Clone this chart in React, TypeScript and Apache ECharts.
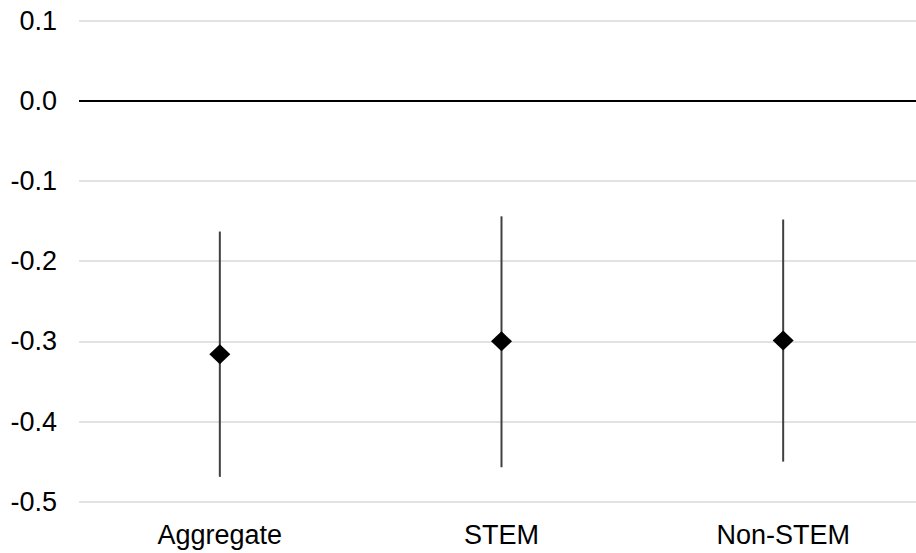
import React, { useEffect, useRef } from "react";
import * as echarts from "echarts";

const categories = ["Aggregate", "STEM", "Non-STEM"];
const estimates = [-0.316, -0.3, -0.299];
const lowerBounds = [-0.469, -0.457, -0.45];
const upperBounds = [-0.163, -0.144, -0.148];
const yTicks = { min: -0.5, max: 0.1, interval: 0.1 };

const FONT = "'Liberation Sans', Arial, sans-serif";

export default function App() {
  const ref = useRef<HTMLDivElement>(null);
  useEffect(() => {
    if (!ref.current) return;
    const chart = echarts.init(ref.current, undefined, { renderer: "svg" });
    const errData = categories.map((_, i) => [i, lowerBounds[i], upperBounds[i]]);
    chart.setOption({
      animation: false,
      grid: { left: 79, top: 20.7, width: 845, height: 481, containLabel: false },
      xAxis: {
        type: "category",
        data: categories,
        boundaryGap: true,
        axisLine: { show: false, onZero: false },
        axisTick: { show: false },
        splitLine: { show: false },
        axisLabel: { color: "#000", fontSize: 27, fontFamily: FONT, margin: 20 },
      },
      yAxis: {
        type: "value",
        min: yTicks.min,
        max: yTicks.max,
        interval: yTicks.interval,
        axisLine: { show: false },
        axisTick: { show: false },
        splitLine: { lineStyle: { color: "#d9d9d9", width: 1.5 } },
        axisLabel: {
          color: "#000",
          fontSize: 27,
          fontFamily: FONT,
          margin: 22,
          formatter: (v: number) => (Math.abs(v) < 1e-9 ? "0.0" : v.toFixed(1)),
        },
      },
      series: [
        {
          type: "custom",
          data: errData,
          z: 3,
          renderItem: (params: any, api: any) => {
            const x = api.value(0);
            const p1 = api.coord([x, api.value(1)]);
            const p2 = api.coord([x, api.value(2)]);
            return {
              type: "line",
              shape: { x1: p1[0], y1: p1[1], x2: p2[0], y2: p2[1] },
              style: { stroke: "#404040", lineWidth: 2 },
            };
          },
          markLine: {
            silent: true,
            symbol: "none",
            label: { show: false },
            lineStyle: { color: "#000", width: 2, type: "solid" },
            data: [{ yAxis: 0 }],
          },
        },
        {
          type: "scatter",
          data: estimates,
          symbol: "diamond",
          symbolSize: [21, 20],
          z: 5,
          itemStyle: { color: "#000", opacity: 1 },
        },
      ],
    });
    return () => chart.dispose();
  }, []);
  return (
    <div style={{ width: 916, height: 553, position: "absolute", left: 0, top: 0, overflow: "hidden" }}>
      <div ref={ref} style={{ width: 926, height: 553 }} />
    </div>
  );
}
